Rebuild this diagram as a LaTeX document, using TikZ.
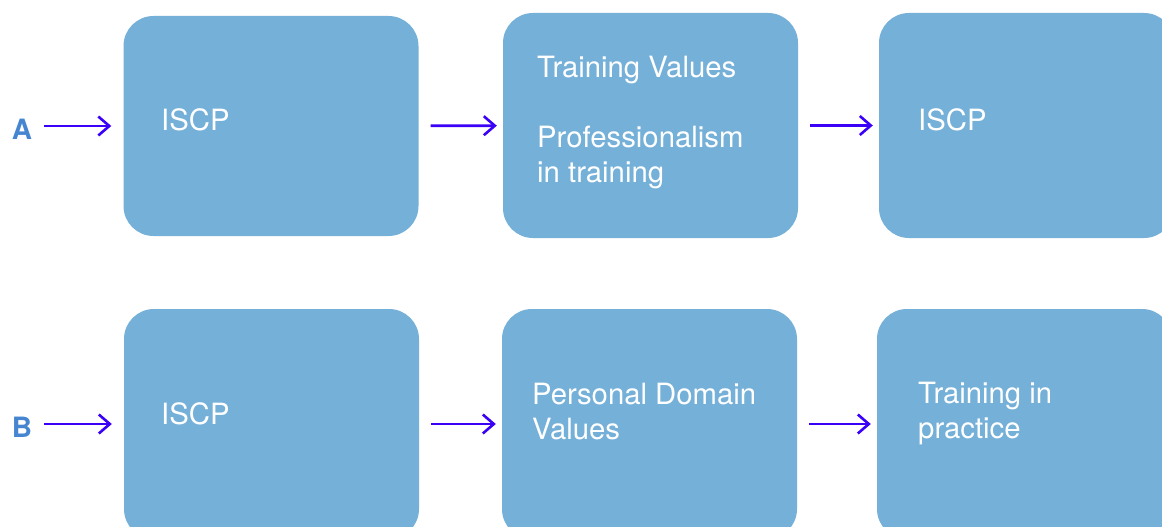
\documentclass[tikz,border=0pt]{standalone}
\usepackage{fontspec}
\setmainfont{TeX Gyre Heros}
\usetikzlibrary{arrows.meta}
\definecolor{boxblue}{RGB}{117,176,216}
\definecolor{flowblue}{RGB}{58,0,248}
\definecolor{rowlabel}{RGB}{70,134,208}
\tikzset{
	stage/.style={fill=boxblue, rounded corners=30pt, minimum width=295pt, minimum height=225pt, inner sep=0pt},
	stagetext/.style={text=white, font=\fontsize{29.3}{35}\selectfont, align=left, anchor=base west, inner sep=0pt},
	rowname/.style={text=rowlabel, font=\bfseries\fontsize{28}{35}\selectfont, inner sep=0pt},
	flow/.style={draw=flowblue, line width=2.6pt, -{Straight Barb[length=11pt,width=19pt,line width=2.6pt]}, shorten <=12pt, shorten >=6pt}
}

\begin{document}
\begin{tikzpicture}[x=1pt,y=-1pt]
\useasboundingbox (0,0) rectangle (1162,527);
\clip (0,0) rectangle (1162,527);
% row A
\node[stage, minimum height=220pt] (a1) at (271,126) {};
\node[stage] (a2) at (650.5,125.5) {};
\node[stage] (a3) at (1026.5,125.5) {};
\node[rowname] (la) at (22,129) {A};
\node[stagetext] (ta1) at (161,130) {ISCP};
% base anchor sits on the last line
\node[stagetext] (ta2) at (537,182) {Training Values\\[35pt]Professionalism\\in training};
\node[stagetext] (ta3) at (918,130) {ISCP};
\draw[flow, shorten >=12pt] (la.east |- a1.west) -- (a1.west);
\draw[flow] (a1) -- (a2);
\draw[flow] (a2) -- (a3);
% row B
\node[stage, minimum height=230pt] (b1) at (271.5,424) {};
\node[stage, minimum height=230pt] (b2) at (649.5,424) {};
\node[stage, minimum height=230pt] (b3) at (1024.5,424) {};
\node[rowname] (lb) at (22,427) {B};
\node[stagetext] (tb1) at (161,424.5) {ISCP};
\node[stagetext] (tb2) at (532,439) {Personal Domain\\Values};
\node[stagetext] (tb3) at (918,438) {Training in\\practice};
\draw[flow, shorten >=12pt] (lb.east |- b1.west) -- (b1.west);
\draw[flow] (b1) -- (b2);
\draw[flow] (b2) -- (b3);
\end{tikzpicture}
\end{document}
